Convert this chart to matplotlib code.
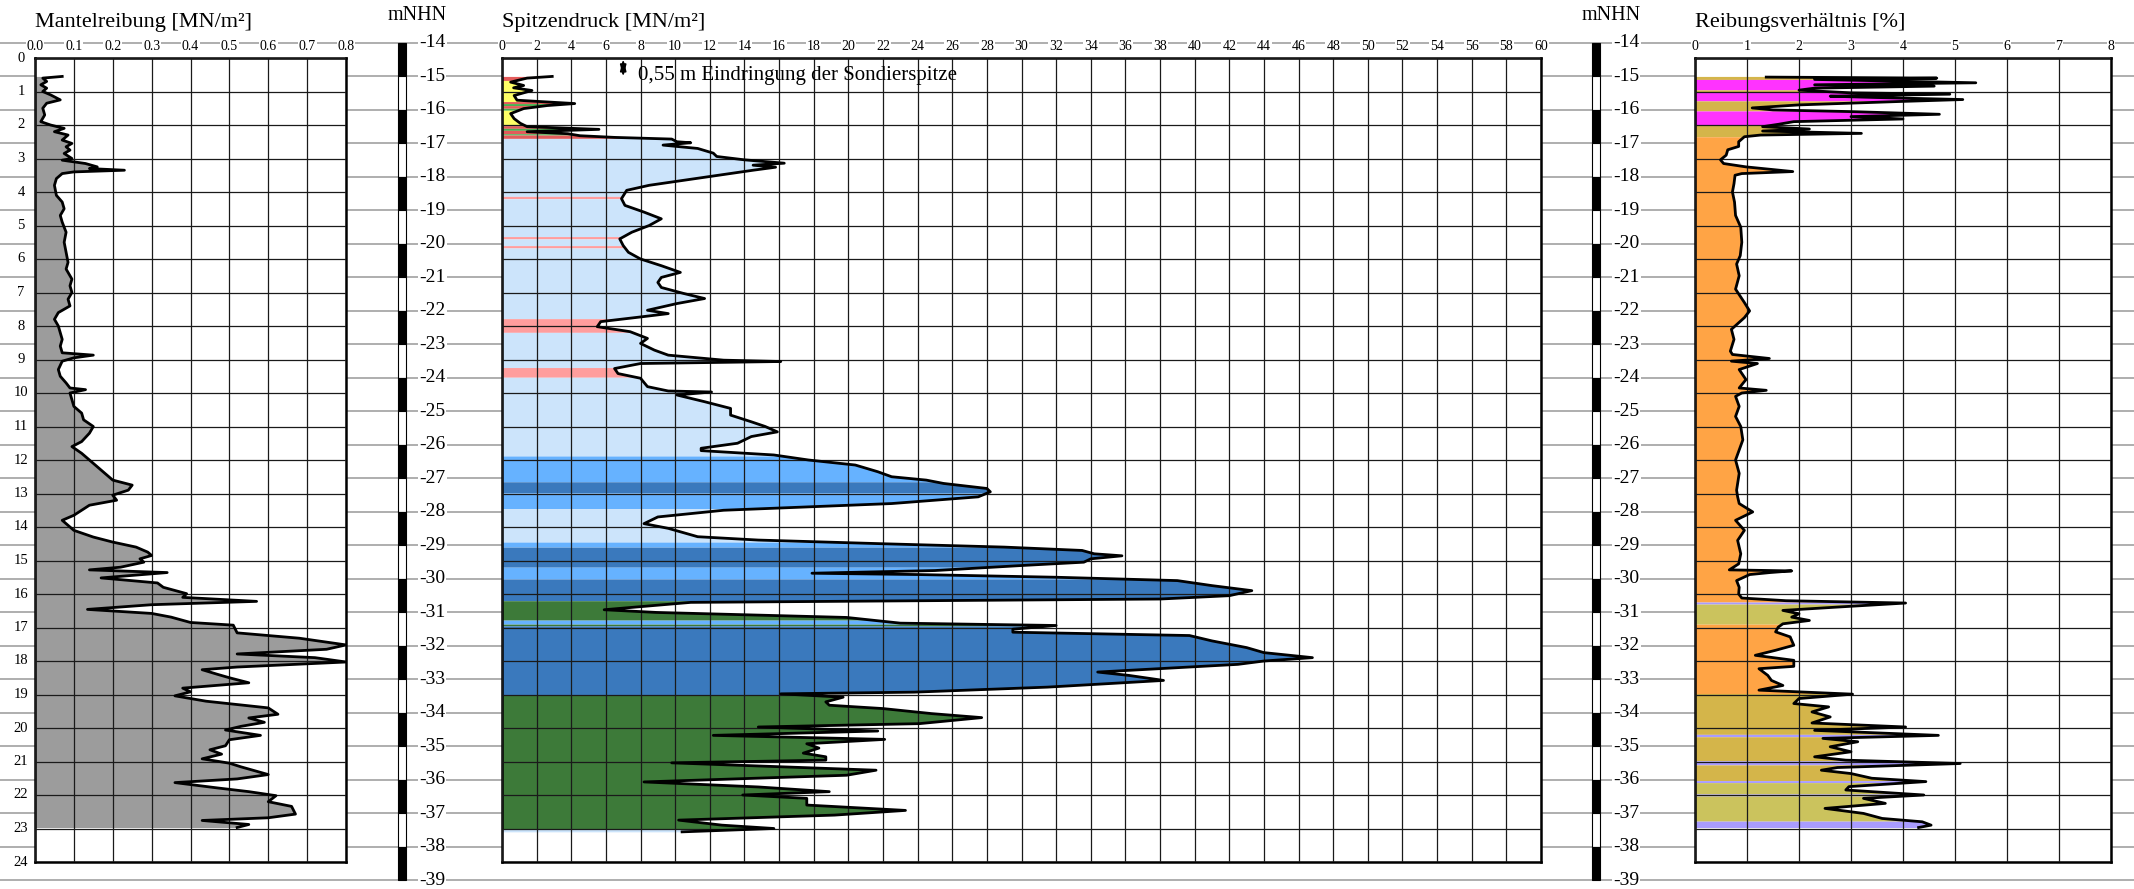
import numpy as np
import matplotlib.pyplot as plt

plt.rcParams['font.family'] = ['Liberation Serif', 'DejaVu Serif']

# ---------------- data ----------------
ground_level = -14.45            # mNHN at depth 0 m
elevations = list(range(-14, -40, -1))
depth_ticks = list(range(0, 25))

fs_ticks = [0.0, 0.1, 0.2, 0.3, 0.4, 0.5, 0.6, 0.7, 0.8]
qc_ticks = list(range(0, 62, 2))
rf_ticks = list(range(0, 9))

# Mantelreibung fs [MN/m2]
fs_depth = [0.55, 0.6, 0.7, 0.8, 0.9, 1.0, 1.1, 1.25, 1.35, 1.5, 1.7, 1.9, 2.0, 2.1, 2.2, 2.3,
            2.45, 2.55, 2.65, 2.75, 2.85, 3.0, 3.05, 3.15, 3.25, 3.3, 3.35, 3.4, 3.45, 3.6, 3.8,
            4.1, 4.3, 4.5, 4.7, 4.9, 5.2, 5.5, 5.8, 6.1, 6.3, 6.6, 6.8, 7.0, 7.2, 7.4, 7.6, 7.8,
            8.0, 8.2, 8.4, 8.6, 8.8, 8.87, 8.95, 9.05, 9.3, 9.5, 9.7, 9.85, 9.9, 10.0, 10.2,
            10.4, 10.6, 10.8, 11.0, 11.2, 11.45, 11.6, 11.8, 12.0, 12.2, 12.4, 12.6, 12.75,
            12.9, 13.05, 13.2, 13.35, 13.5, 13.65, 13.8, 13.95, 14.1, 14.3, 14.45, 14.6, 14.75,
            14.85, 14.95, 15.05, 15.2, 15.28, 15.36, 15.52, 15.67, 15.8, 15.99, 16.1, 16.22,
            16.32, 16.46, 16.58, 16.69, 16.85, 16.93, 17.16, 17.32, 17.52, 17.65, 17.79, 17.9,
            18.03, 18.18, 18.26, 18.4, 18.5, 18.65, 18.81, 18.92, 19.04, 19.2, 19.4, 19.59,
            19.7, 19.83, 19.95, 20.06, 20.22, 20.35, 20.53, 20.65, 20.78, 20.92, 21.05, 21.16,
            21.39, 21.52, 21.63, 21.79, 21.9, 22.02, 22.2, 22.34, 22.57, 22.68, 22.76, 22.88,
            22.97]
fs_value = [0.07, 0.02, 0.03, 0.015, 0.03, 0.02, 0.04, 0.065, 0.03, 0.02, 0.025, 0.015, 0.04,
            0.075, 0.05, 0.085, 0.07, 0.095, 0.08, 0.09, 0.075, 0.095, 0.07, 0.13, 0.16, 0.14,
            0.23, 0.10, 0.07, 0.055, 0.05, 0.055, 0.07, 0.075, 0.065, 0.07, 0.08, 0.075, 0.08,
            0.085, 0.08, 0.095, 0.09, 0.095, 0.085, 0.09, 0.06, 0.05, 0.06, 0.065, 0.07, 0.065,
            0.07, 0.15, 0.10, 0.07, 0.06, 0.065, 0.08, 0.09, 0.13, 0.09, 0.095, 0.10, 0.12,
            0.125, 0.15, 0.14, 0.12, 0.095, 0.12, 0.14, 0.16, 0.18, 0.20, 0.25, 0.24, 0.20,
            0.21, 0.14, 0.12, 0.10, 0.07, 0.085, 0.10, 0.15, 0.20, 0.26, 0.29, 0.30, 0.27,
            0.28, 0.22, 0.14, 0.34, 0.17, 0.315, 0.33, 0.39, 0.38, 0.57, 0.30, 0.135, 0.30,
            0.35, 0.40, 0.51, 0.52, 0.68, 0.80, 0.75, 0.52, 0.72, 0.80, 0.52, 0.43, 0.47,
            0.50, 0.55, 0.38, 0.40, 0.36, 0.44, 0.60, 0.625, 0.55, 0.59, 0.53, 0.49, 0.58,
            0.50, 0.49, 0.45, 0.48, 0.43, 0.50, 0.53, 0.60, 0.52, 0.36, 0.47, 0.55, 0.62,
            0.60, 0.66, 0.67, 0.60, 0.43, 0.55, 0.52]

# Spitzendruck qc [MN/m2]
qc_depth = [0.55, 0.6, 0.72, 0.82, 0.89, 0.97, 1.12, 1.26, 1.36, 1.42, 1.51, 1.66, 1.81, 1.95,
            2.05, 2.13, 2.2, 2.26, 2.32, 2.37, 2.42, 2.5, 2.53, 2.6, 2.7, 2.84, 2.94, 3.04,
            3.14, 3.2, 3.26, 3.35, 3.5, 3.65, 3.8, 3.95, 4.2, 4.4, 4.6, 4.8, 5.0, 5.2, 5.4,
            5.6, 5.8, 6.0, 6.2, 6.4, 6.55, 6.7, 6.85, 7.03, 7.18, 7.33, 7.53, 7.63, 7.73,
            7.87, 8.02, 8.17, 8.37, 8.52, 8.72, 8.87, 9.02, 9.06, 9.12, 9.27, 9.42, 9.56,
            9.81, 9.94, 9.97, 10.06, 10.26, 10.46, 10.66, 10.86, 11.0, 11.16, 11.3, 11.5,
            11.65, 11.72, 11.85, 12.0, 12.15, 12.35, 12.5, 12.6, 12.7, 12.85, 12.95, 13.1,
            13.3, 13.5, 13.7, 13.9, 14.04, 14.29, 14.39, 14.5, 14.6, 14.7, 14.8, 14.86, 14.95,
            15.05, 15.15, 15.3, 15.38, 15.42, 15.5, 15.6, 15.75, 15.9, 16.05, 16.15, 16.25,
            16.47, 16.55, 16.7, 16.87, 16.94, 17.05, 17.14, 17.24, 17.4, 17.6, 17.75, 17.9,
            18.0, 18.1, 18.18, 18.33, 18.43, 18.58, 18.78, 18.93, 18.98, 19.08, 19.22, 19.32,
            19.42, 19.57, 19.69, 19.87, 19.97, 20.09, 20.22, 20.34, 20.47, 20.6, 20.75, 20.86,
            20.96, 21.04, 21.26, 21.41, 21.61, 21.76, 21.9, 22.0, 22.1, 22.3, 22.46, 22.6,
            22.75, 22.9, 23.0, 23.1]
qc_value = [2.9, 1.45, 0.5, 1.25, 0.67, 1.73, 0.7, 0.87, 4.2, 2.6, 1.25, 0.5, 0.7, 1.06,
            1.45, 5.6, 1.45, 3.8, 4.5, 6.5, 9.8, 10.1, 10.9, 9.3, 11.3, 12.2, 12.4, 14.0,
            16.3, 14.5, 15.8, 14.5, 12.5, 10.5, 8.5, 7.2, 6.9, 7.1, 8.2, 9.2, 8.5, 7.5, 6.8,
            7.0, 7.3, 8.0, 9.2, 10.3, 9.2, 9.0, 9.2, 10.5, 11.7, 10.1, 8.4, 9.6, 8.0, 5.7,
            5.5, 7.4, 8.4, 8.0, 8.8, 9.6, 12.8, 16.1, 8.0, 6.5, 6.7, 8.0, 8.4, 9.6, 12.1,
            10.1, 11.7, 13.2, 13.2, 14.4, 15.2, 15.9, 14.4, 13.6, 11.5, 11.5, 15.7, 17.7,
            20.4, 21.7, 22.5, 24.5, 25.5, 28.0, 28.2, 27.5, 22.5, 12.8, 9.0, 8.2, 9.6, 11.3,
            14.8, 22.0, 29.0, 33.5, 34.2, 35.8, 34.0, 33.6, 30.0, 25.0, 17.9, 24.1, 32.0,
            39.0, 41.0, 43.3, 42.0, 38.0, 10.9, 5.9, 8.9, 19.9, 23.0, 32.0, 29.5, 29.5, 39.7,
            41.0, 43.0, 44.0, 46.8, 44.0, 42.5, 39.7, 34.4, 36.2, 38.2, 31.5, 23.8, 16.1,
            19.7, 18.7, 18.9, 22.0, 24.8, 27.7, 24.1, 14.8, 21.7, 12.2, 22.1, 17.6, 18.3,
            17.4, 18.7, 18.7, 9.8, 21.6, 19.9, 8.2, 14.8, 18.9, 13.9, 17.6, 17.6, 23.3,
            19.2, 10.2, 12.7, 15.7, 10.4]

# Reibungsverhaeltnis Rf [%]
rf_depth = [0.57, 0.6, 0.64, 0.74, 0.8, 0.84, 0.9, 0.96, 1.04, 1.08, 1.14, 1.18, 1.24, 1.3,
            1.4, 1.49, 1.55, 1.6, 1.68, 1.75, 1.82, 1.9, 1.98, 2.05, 2.12, 2.18, 2.25, 2.3,
            2.35, 2.5, 2.64, 2.74, 2.9, 3.04, 3.15, 3.25, 3.39, 3.45, 3.5, 3.75, 4.0, 4.3,
            4.7, 5.05, 5.5, 5.9, 6.15, 6.5, 6.9, 7.3, 7.55, 7.75, 8.1, 8.4, 8.75, 8.85, 8.97,
            9.05, 9.12, 9.3, 9.6, 9.85, 9.92, 10.0, 10.1, 10.4, 10.7, 11.0, 11.4, 11.7, 12.0,
            12.4, 12.9, 13.1, 13.3, 13.55, 13.8, 14.1, 14.4, 14.8, 15.1, 15.28, 15.31, 15.36,
            15.42, 15.6, 15.8, 16.0, 16.12, 16.2, 16.27, 16.39, 16.49, 16.59, 16.69, 16.79,
            16.89, 16.99, 17.13, 17.28, 17.53, 17.68, 17.83, 17.98, 18.16, 18.23, 18.43,
            18.58, 18.73, 18.87, 18.99, 19.12, 19.27, 19.37, 19.52, 19.67, 19.85, 19.97,
            20.07, 20.22, 20.31, 20.41, 20.56, 20.71, 20.86, 20.96, 21.06, 21.18, 21.26,
            21.36, 21.5, 21.6, 21.75, 21.85, 22.0, 22.1, 22.25, 22.4, 22.55, 22.7, 22.8,
            22.9, 22.97]
rf_value = [1.37, 4.65, 2.3, 5.4, 2.3, 4.6, 2.3, 2.0, 3.0, 4.9, 2.6, 3.5, 5.15, 3.9, 2.0,
            1.1, 1.5, 3.0, 4.7, 3.0, 4.0, 1.9, 1.6, 1.3, 2.2, 1.3, 3.2, 1.26, 0.95, 0.84,
            0.84, 0.63, 0.6, 0.49, 0.55, 0.98, 1.88, 0.9, 0.77, 0.75, 0.72, 0.76, 0.78, 0.88,
            0.9, 0.87, 0.8, 0.85, 0.78, 0.95, 1.05, 0.95, 0.7, 0.75, 0.68, 0.72, 1.43, 0.7,
            1.2, 0.85, 0.98, 0.85, 1.37, 0.9, 0.78, 0.85, 0.78, 0.88, 0.92, 0.85, 0.78,
            0.85, 0.8, 0.82, 0.85, 1.11, 0.78, 0.95, 0.82, 0.88, 0.84, 0.66, 1.86, 1.44,
            1.05, 0.8, 0.85, 0.84, 0.9, 1.75, 4.05, 2.74, 1.69, 2.0, 1.86, 2.2, 1.69, 1.6,
            1.55, 1.83, 1.9, 1.55, 1.16, 1.9, 1.9, 1.23, 1.4, 1.47, 1.69, 1.23, 3.03, 2.0,
            1.9, 2.57, 2.25, 2.6, 2.25, 4.05, 2.3, 4.68, 2.46, 3.13, 2.6, 3.0, 2.3, 2.9,
            5.1, 2.74, 2.43, 3.0, 3.4, 4.44, 2.96, 2.9, 4.4, 3.24, 3.66, 2.5, 3.24, 3.6,
            4.37, 4.54, 4.3]

# soil zones (depth bounds, class per zone)
qc_bounds = [0.55, 0.67, 1.30, 1.36, 1.42, 1.50, 1.56, 2.02, 2.10, 2.16, 2.26, 2.30, 2.40,
             4.13, 4.20, 5.33, 5.40, 5.60, 5.67, 7.78, 8.19, 9.24, 9.53, 11.88, 12.65, 12.98,
             13.45, 14.45, 14.60, 15.20, 15.55, 16.20, 16.78, 16.90, 16.95, 19.00, 23.00, 23.10]
qc_soil = ['r1', 'y', 'r1', 'g1', 'r1', 'g1', 'y', 'r1', 'g1', 'r1', 'g1', 'r1', 'lb', 'r2',
           'lb', 'r2', 'lb', 'r2', 'lb', 'r2', 'lb', 'r2', 'lb', 'mb', 'db', 'mb', 'lb', 'mb',
           'db', 'mb', 'db', 'dg', 'mb', 'dg', 'db', 'dg', 'lb']
rf_bounds = [0.55, 0.64, 0.95, 1.00, 1.28, 1.58, 2.00, 2.35, 16.24, 16.30, 16.90, 18.97,
             20.19, 20.26, 20.98, 21.10, 21.57, 21.63, 21.97, 22.03, 22.78, 22.97]
rf_soil = ['ol', 'mg', 'ol', 'mg', 'ol', 'mg', 'ol', 'or', 'pu', 'ol2', 'or', 'ol', 'pu',
           'ol', 'pu', 'ol', 'pu', 'ol2', 'pu', 'ol2', 'pu']

qc_colors = {'r1': '#e35b5b', 'y': '#ffff66', 'g1': '#4caf50', 'r2': '#ff9d9d',
             'lb': '#cce4fb', 'mb': '#66b2ff', 'db': '#3a79bd', 'dg': '#3d7a39'}
rf_colors = {'ol': '#d4b54a', 'mg': '#ff33ff', 'or': '#ffa445', 'ol2': '#cbc35d',
             'pu': '#a99cff'}

# ---------------- layout ----------------
W, H = 2134, 889
top_px, bot_px = 58, 862
ppm = (bot_px - top_px) / 24.0

fig = plt.figure(figsize=(W / 100, H / 100), dpi=100)

bg = fig.add_axes([0, 0, 1, 1], zorder=0)
bg.set_xlim(0, W)
bg.set_ylim((H - top_px) / ppm, -top_px / ppm)
bg.axis('off')

for e in elevations:
    bg.axhline(ground_level - e, color='#a8a8a8', lw=1.3, zorder=1)

for xb, xl in [(402, 419), (1596, 1613)]:
    for e in elevations[:-1]:
        c = 'k' if (-e) % 2 == 0 else 'w'
        bg.bar(xb, 1, width=8, bottom=ground_level - e, color=c, edgecolor='k', lw=0.8,
               zorder=2)
    for e in elevations:
        bg.text(xl, ground_level - e, str(e), ha='left', va='center', fontsize=14, zorder=3,
                bbox=dict(fc='w', ec='none', pad=1.0))
    fig.text((xb + 15) / W, 1 - 16 / H, 'mNHN', ha='center', va='center', fontsize=14.5)


def panel(x0, x1, xmax, ticks, labels, title):
    ax = fig.add_axes([x0 / W, 1 - bot_px / H, (x1 - x0) / W, (bot_px - top_px) / H],
                      zorder=2)
    ax.set_xlim(0, xmax)
    ax.set_ylim(24, 0)
    ax.set_xticks(ticks)
    ax.set_yticks(depth_ticks)
    ax.tick_params(length=0, labelbottom=False, labelleft=False)
    ax.grid(True, color='#1a1a1a', lw=0.9)
    ax.set_axisbelow(False)
    for s in ax.spines.values():
        s.set_linewidth(1.8)
    for t, lab in zip(ticks, labels):
        ax.text(t, -0.33, lab, ha='center', va='center', fontsize=10, clip_on=False,
                bbox=dict(fc='w', ec='none', pad=0.6))
    fig.text(x0 / W, 1 - 22 / H, title, ha='left', va='center', fontsize=16)
    return ax


def zone_fill(ax, depth, val, bounds, soil, cmap):
    depth = np.asarray(depth)
    for t, b, s in zip(bounds[:-1], bounds[1:], soil):
        m = (depth > t) & (depth < b)
        dd = np.concatenate([[t], depth[m], [b]])
        xx = np.interp(dd, depth, val)
        ax.fill_betweenx(dd, 0, xx, color=cmap[s], lw=0, zorder=1)


axL = panel(35, 346, 0.8, fs_ticks, [f'{v:.1f}' for v in fs_ticks], 'Mantelreibung [MN/m²]')
axM = panel(502, 1541, 60, qc_ticks, [str(v) for v in qc_ticks], 'Spitzendruck [MN/m²]')
axR = panel(1695, 2111, 8, rf_ticks, [str(v) for v in rf_ticks], 'Reibungsverhältnis [%]')

# depth labels left
for d in depth_ticks:
    axL.text(-0.045, d, str(d), transform=axL.get_yaxis_transform(), ha='center',
             va='center', fontsize=10.5)

# Mantelreibung
axL.fill_betweenx(fs_depth, 0, fs_value, color='#9c9c9c', lw=0, zorder=1)
axL.plot(fs_value, fs_depth, color='k', lw=2, zorder=4, clip_on=True)

# Spitzendruck
zone_fill(axM, qc_depth, qc_value, qc_bounds, qc_soil, qc_colors)
axM.plot(qc_value, qc_depth, color='k', lw=2, zorder=4)
axM.annotate('', xy=(7.0, 0.02), xytext=(7.0, 0.57),
             arrowprops=dict(arrowstyle='<|-|>,head_length=0.7,head_width=0.18', color='k',
                             lw=1.2, shrinkA=0, shrinkB=0), zorder=5)
axM.text(7.85, 0.52, '0,55 m Eindringung der Sondierspitze', fontsize=15, va='center',
         zorder=5)

# Reibungsverhaeltnis
zone_fill(axR, rf_depth, rf_value, rf_bounds, rf_soil, rf_colors)
axR.plot(rf_value, rf_depth, color='k', lw=2, zorder=4)

fig.savefig('out.png', dpi=100)
